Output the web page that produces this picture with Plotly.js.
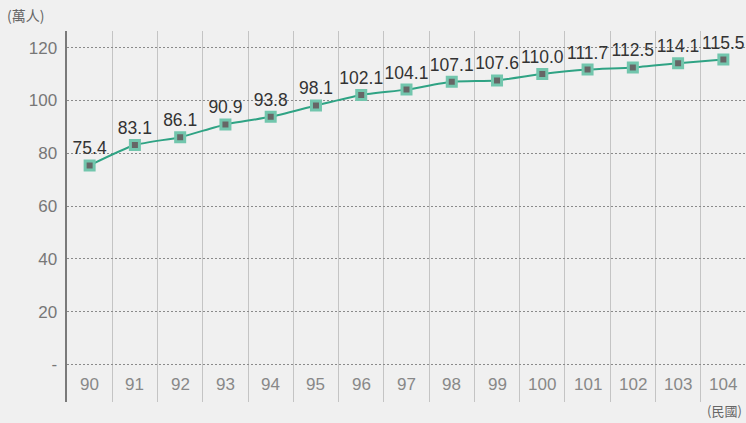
<!DOCTYPE html>
<html>
<head>
<meta charset="utf-8">
<script src="https://cdn.plot.ly/plotly-3.0.1.min.js"></script>
<style>
html,body{margin:0;padding:0;background:#f0f0f0;}
#chart{width:746px;height:423px;}
</style>
</head>
<body>
<div id="chart"></div>
<script>
const categories = ["90","91","92","93","94","95","96","97","98","99","100","101","102","103","104"];
const values = [75.4, 83.1, 86.1, 90.9, 93.8, 98.1, 102.1, 104.1, 107.1, 107.6, 110.0, 111.7, 112.5, 114.1, 115.5];
const valueLabels = ["75.4","83.1","86.1","90.9","93.8","98.1","102.1","104.1","107.1","107.6","110.0","111.7","112.5","114.1","115.5"];
const yTickVals = [0, 20, 40, 60, 80, 100, 120];
const yTickText = ["-", "20", "40", "60", "80", "100", "120"];
const yUnit = "(萬人)";
const xUnit = "(民國)";

const font = "Liberation Sans, Arial, sans-serif";

const trace = {
  type: "scatter",
  mode: "lines+markers+text",
  x: categories,
  y: values,
  text: valueLabels,
  textposition: "top center",
  textfont: {family: font, size: 17.5, color: "#333333"},
  line: {color: "#2fa384", width: 2, shape: "spline", smoothing: 0.6},
  marker: {symbol: "square", size: 9, color: "#666666", line: {color: "#72c6ad", width: 3}},
  cliponaxis: false,
  hoverinfo: "skip"
};

const xLabelAnnotations = categories.map((c, i) => ({
  x: i, y: -7.6, xref: "x", yref: "y", text: c, showarrow: false,
  font: {family: font, size: 17, color: "#888888"}
}));

const layout = {
  width: 746, height: 423,
  margin: {l: 67, r: 0, t: 31, b: 21},
  paper_bgcolor: "#f0f0f0",
  plot_bgcolor: "#f0f0f0",
  showlegend: false,
  font: {family: font},
  xaxis: {
    type: "category",
    range: [-0.5, 14.5],
    tickson: "boundaries",
    showgrid: true,
    gridcolor: "#c4c4c4",
    gridwidth: 1,
    showticklabels: false,
    ticks: "",
    showline: false,
    zeroline: false,
    fixedrange: true
  },
  yaxis: {
    range: [-14.2, 126.3],
    tickvals: yTickVals,
    ticktext: yTickText,
    tickfont: {family: font, size: 17, color: "#777777"},
    showgrid: true,
    gridcolor: "#8a8a8a",
    gridwidth: 1,
    griddash: "2px,2px",
    zeroline: false,
    showline: true,
    linecolor: "#7a7a7a",
    linewidth: 2.5,
    ticks: "",
    ticklabelstandoff: 4,
    fixedrange: true
  },
  annotations: xLabelAnnotations.concat([
    {x: 0, y: 1, xref: "paper", yref: "paper", xanchor: "left", yanchor: "bottom",
     xshift: -62, yshift: 4, text: yUnit, showarrow: false,
     font: {family: "Noto Sans CJK TC, Liberation Sans, sans-serif", size: 14, color: "#666666"}},
    {x: 1, y: 0, xref: "paper", yref: "paper", xanchor: "right", yanchor: "top",
     xshift: -2, yshift: 3, text: xUnit, showarrow: false,
     font: {family: "Noto Sans CJK TC, Liberation Sans, sans-serif", size: 13, color: "#666666"}}
  ])
};

Plotly.newPlot("chart", [trace], layout, {displayModeBar: false, staticPlot: true});
</script>
</body>
</html>
